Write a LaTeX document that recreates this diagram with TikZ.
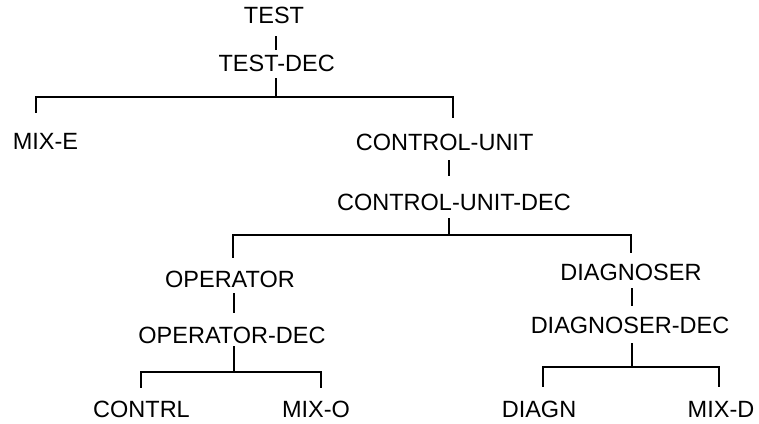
\documentclass[tikz,border=0pt]{standalone}
\usepackage{fontspec}
\setmainfont{Liberation Sans}

\begin{document}
\begin{tikzpicture}[x=1pt, y=-1pt,
  lbl/.style={font=\fontsize{23.5}{28}\selectfont, inner sep=0pt, anchor=base,
    text height=17pt, text depth=0pt},
  tie/.style={line width=2.6pt}]

  \useasboundingbox (0,0) rectangle (759,423);

  \node[lbl] (test)    at (274,23.5) {TEST};
  \node[lbl] (testdec) at (276.7,71) {TEST-DEC};
  \node[lbl] (mixe)    at (45.5,149) {MIX-E};
  \node[lbl] (cu)      at (444.6,150.5) {CONTROL-UNIT};
  \node[lbl] (cudec)   at (454,210) {CONTROL-UNIT-DEC};
  \node[lbl] (oper)    at (230,287.5) {OPERATOR};
  \node[lbl] (operdec) at (232,343) {OPERATOR-DEC};
  \node[lbl] (diag)    at (631,280) {DIAGNOSER};
  \node[lbl] (diagdec) at (630,333) {DIAGNOSER-DEC};
  \node[lbl] (contrl)  at (141.5,417) {CONTRL};
  \node[lbl] (mixo)    at (316,417) {MIX-O};
  \node[lbl] (diagn)   at (539,417) {DIAGN};
  \node[lbl] (mixd)    at (721,417) {MIX-D};

  \coordinate (b1l) at (36,97);  \coordinate (b1m) at (276,97);  \coordinate (b1r) at (453,97);
  \coordinate (b2l) at (233,235); \coordinate (b2m) at (449,235); \coordinate (b2r) at (631,235);
  \coordinate (b3l) at (141,372); \coordinate (b3m) at (234,372); \coordinate (b3r) at (321,372);
  \coordinate (b4l) at (543,367); \coordinate (b4m) at (632,367); \coordinate (b4r) at (719,367);

  %% TEST -> TEST-DEC -> MIX-E, CONTROL-UNIT
  \draw[tie, shorten <=12.5pt, shorten >=4pt] (test.south -| b1m) -- (testdec.north -| b1m);
  \draw[tie, shorten <=7pt] (testdec.south -| b1m) -- (b1m);
  \draw[tie, shorten <=19pt, shorten >=15.5pt] (mixe.north -| b1l) |- (b1r) -- (cu.north -| b1r);

  %% CONTROL-UNIT -> CONTROL-UNIT-DEC -> OPERATOR, DIAGNOSER
  \draw[tie, shorten <=9.5pt, shorten >=17pt] (cu.south -| b2m) -- (cudec.north -| b2m);
  \draw[tie, shorten <=8pt] (cudec.south -| b2m) -- (b2m);
  \draw[tie, shorten <=12.5pt, shorten >=10pt] (oper.north -| b2l) |- (b2r) -- (diag.north -| b2r);

  %% OPERATOR -> OPERATOR-DEC -> CONTRL, MIX-O
  \draw[tie, shorten <=5.5pt, shorten >=13pt] (oper.south -| b3m) -- (operdec.north -| b3m);
  \draw[tie, shorten <=3pt] (operdec.south -| b3m) -- (b3m);
  \draw[tie, shorten <=12pt, shorten >=12pt] (contrl.north -| b3l) |- (b3r) -- (mixo.north -| b3r);

  %% DIAGNOSER -> DIAGNOSER-DEC -> DIAGN, MIX-D
  \draw[tie, shorten <=8pt, shorten >=10pt] (diag.south -| b4m) -- (diagdec.north -| b4m);
  \draw[tie, shorten <=10pt] (diagdec.south -| b4m) -- (b4m);
  \draw[tie, shorten <=13pt, shorten >=13pt] (diagn.north -| b4l) |- (b4r) -- (mixd.north -| b4r);
\end{tikzpicture}
\end{document}
